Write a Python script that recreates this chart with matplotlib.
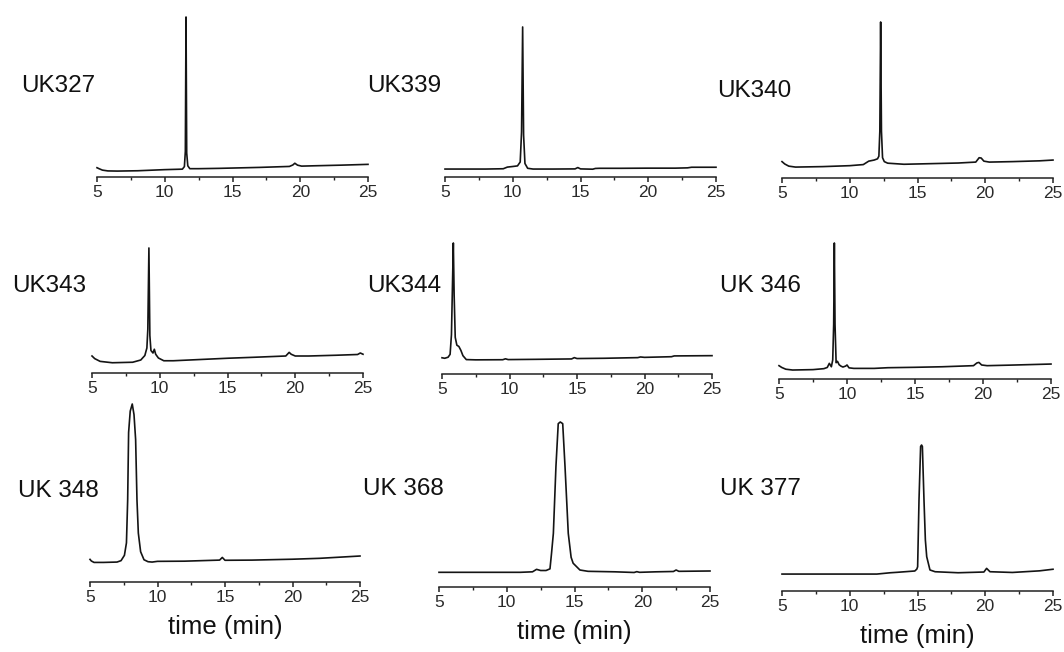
import matplotlib
matplotlib.use("Agg")
import matplotlib.pyplot as plt
from matplotlib.ticker import MultipleLocator

plt.rcParams["font.family"] = ["Liberation Sans", "DejaVu Sans"]

# retention time (min) and detector signal (% of panel full scale)
uk327_t = [5.0, 5.15, 5.4, 5.8, 6.5, 8.0, 10.0, 11.3, 11.45, 11.52, 11.57, 11.62, 11.7, 11.85,
           12.5, 14.0, 15.0, 17.0, 19.2, 19.45, 19.6, 19.8, 20.1, 21.0, 23.0, 25.0]
uk327_y = [5.8, 5.2, 4.3, 3.8, 3.7, 3.9, 4.6, 4.9, 6.5, 16, 100, 15, 7, 5.2,
           5.2, 5.4, 5.6, 6.0, 6.6, 7.5, 8.6, 7.4, 6.8, 7.0, 7.4, 7.9]

uk339_t = [5.0, 6.0, 8.0, 9.3, 9.6, 10.0, 10.35, 10.55, 10.65, 10.73, 10.8, 10.9, 11.1, 11.5,
           13.0, 14.6, 14.8, 15.0, 15.9, 16.1, 16.4, 18.0, 20.0, 22.0, 22.9, 23.2, 25.0]
uk339_y = [5.3, 5.3, 5.3, 5.5, 6.6, 7.0, 7.4, 10, 30, 100, 28, 9, 5.8, 5.3,
           5.3, 5.4, 6.3, 5.4, 5.2, 5.7, 5.8, 5.8, 5.9, 5.9, 6.1, 6.5, 6.5]

uk340_t = [5.0, 5.2, 5.5, 6.0, 8.0, 10.0, 11.0, 11.4, 11.8, 12.05, 12.15, 12.22, 12.28, 12.34,
           12.42, 12.55, 12.8, 14.0, 16.0, 18.0, 19.3, 19.55, 19.7, 19.9, 20.3, 22.0, 24.0, 25.0]
uk340_y = [10.5, 9.0, 7.6, 7.0, 7.3, 7.9, 8.6, 10.8, 11.5, 12.3, 14, 30, 100, 30,
           13, 10.5, 9.5, 8.8, 9.2, 9.6, 10.2, 13, 12.8, 10.8, 10.2, 10.5, 11.0, 11.5]

uk343_t = [5.0, 5.2, 5.6, 6.5, 8.0, 8.6, 8.9, 9.05, 9.12, 9.2, 9.27, 9.35, 9.5, 9.6, 9.7,
           9.9, 10.3, 11.0, 13.0, 15.0, 17.0, 19.3, 19.55, 19.7, 20.0, 21.0, 23.0, 24.6, 24.8, 25.0]
uk343_y = [13.6, 11.5, 9.3, 8.2, 8.6, 10.4, 14, 20, 35, 100, 30, 18, 16, 19, 15,
           12, 9.8, 9.8, 10.8, 11.8, 12.6, 13.6, 16.5, 15.0, 13.6, 13.6, 14.2, 14.8, 16, 15]

uk344_t = [5.0, 5.2, 5.45, 5.6, 5.7, 5.78, 5.84, 5.9, 5.98, 6.1, 6.25, 6.4, 6.55, 6.8, 7.5,
           9.5, 9.7, 9.9, 12.0, 14.6, 14.8, 15.0, 17.0, 19.5, 19.7, 20.0, 22.0, 22.2, 25.0]
uk344_y = [12.4, 12.0, 12.8, 15, 30, 70, 100, 60, 28, 22, 21, 18, 14, 11, 10.8,
           10.9, 11.6, 11.0, 11.2, 11.5, 12.5, 11.8, 12.0, 12.5, 13.0, 12.7, 13.2, 13.8, 14.0]

uk346_t = [5.0, 5.2, 5.5, 6.0, 7.5, 8.3, 8.55, 8.7, 8.85, 8.95, 9.02, 9.07, 9.12, 9.2, 9.3,
           9.42, 9.55, 9.7, 9.9, 10.0, 10.15, 10.5, 12.0, 13.0, 15.0, 17.0, 19.3, 19.55, 19.7,
           19.9, 20.3, 22.0, 25.0]
uk346_y = [9.8, 8.5, 7.2, 6.6, 6.9, 7.6, 8.5, 11.5, 9.0, 14, 40, 100, 40, 12, 13,
           10.5, 9.5, 8.8, 9.5, 10.3, 8.2, 7.8, 7.8, 8.3, 8.6, 9.0, 9.8, 11.8, 12.2,
           10.3, 9.8, 10.2, 11.0]

uk348_t = [5.0, 5.1, 5.3, 6.0, 7.0, 7.3, 7.55, 7.7, 7.79, 7.86, 7.98, 8.13, 8.26, 8.38,
           8.48, 8.58, 8.75, 9.0, 9.3, 9.6, 10.0, 12.0, 14.6, 14.8, 15.0, 17.0, 20.0, 22.0, 25.0]
uk348_y = [12.7, 11.8, 11.0, 11.0, 11.2, 12.0, 15, 22, 46, 84, 96, 100, 94, 80,
           46, 27.5, 17, 12.5, 11.4, 11.2, 11.6, 11.7, 12.3, 13.8, 12.2, 12.3, 12.8, 13.3, 14.6]

uk368_t = [5.0, 8.0, 11.0, 11.9, 12.2, 12.5, 12.9, 13.19, 13.3, 13.44, 13.63, 13.8, 13.95, 14.13,
           14.3, 14.54, 14.75, 14.9, 15.4, 16.0, 18.0, 19.4, 19.6, 19.8, 21.0, 22.3, 22.5, 22.7, 25.0]
uk368_y = [8.9, 8.9, 8.9, 9.2, 10.7, 10.0, 10.0, 11, 20, 32.5, 73, 99, 100, 99,
           73, 32.5, 18, 14.4, 10.3, 9.5, 9.2, 8.8, 9.3, 8.9, 9.2, 9.4, 10.3, 9.5, 9.7]

uk377_t = [5.0, 8.0, 10.0, 12.0, 13.0, 13.5, 14.8, 14.95, 15.01, 15.11, 15.23, 15.3, 15.36,
           15.48, 15.58, 15.68, 15.92, 16.3, 18.0, 19.9, 20.1, 20.35, 22.0, 24.0, 25.0]
uk377_y = [11.6, 11.6, 11.6, 11.6, 12.5, 12.8, 13.7, 15, 16.6, 62, 99, 100, 99,
           62, 35, 23.5, 14.4, 13.2, 12.5, 13.0, 15.5, 13.2, 12.7, 13.8, 14.9]

names = ["UK327", "UK339", "UK340", "UK343", "UK344", "UK 346", "UK 348", "UK 368", "UK 377"]
times = [uk327_t, uk339_t, uk340_t, uk343_t, uk344_t, uk346_t, uk348_t, uk368_t, uk377_t]
signals = [uk327_y, uk339_y, uk340_y, uk343_y, uk344_y, uk346_y, uk348_y, uk368_y, uk377_y]
xticks = [5, 10, 15, 20, 25]

W, H = 1064, 652
# panel boxes in pixels: left, right, axis line y, top y
boxes = [(97, 368, 177, 17), (445, 716, 177, 27), (782, 1053, 178, 22),
         (92, 363, 373, 248), (442, 712, 374, 243), (779, 1051, 379, 243),
         (90, 360, 582, 404), (439, 710, 587, 422), (782, 1053, 591, 445)]
# sample name anchors: left x, baseline y
name_pos = [(21, 92), (367, 92), (717, 97), (12, 292), (367, 292), (720, 292),
            (18, 497), (363, 495), (720, 495)]

fig = plt.figure(figsize=(W / 100, H / 100), dpi=100)

for i, (name, t, y) in enumerate(zip(names, times, signals)):
    l, r, b, top = boxes[i]
    ax = fig.add_axes([l / W, 1 - b / H, (r - l) / W, (b - top) / H])
    ax.plot(t, y, color="#141414", lw=1.2, clip_on=False)
    ax.set_xlim(5, 25)
    ax.set_ylim(0, 100)
    for s in ("left", "right", "top"):
        ax.spines[s].set_visible(False)
    ax.spines["bottom"].set_linewidth(1.1)
    ax.spines["bottom"].set_color("#222222")
    ax.set_yticks([])
    ax.set_xticks(xticks)
    ax.xaxis.set_minor_locator(MultipleLocator(2.5))
    ax.tick_params(axis="x", which="major", direction="out", length=3.5, width=1.1,
                   color="#222222", labelsize=12.5, pad=2.5, labelcolor="#2a2a2a")
    ax.tick_params(axis="x", which="minor", direction="out", length=2, width=1.0,
                   color="#222222")
    ax.patch.set_visible(False)
    if i >= 6:
        ax.set_xlabel("time (min)", fontsize=18.5, labelpad=7, color="#111111")

    nx, ny = name_pos[i]
    fig.text(nx / W, 1 - ny / H, name, fontsize=17.5, va="baseline", ha="left",
             color="#111111")

fig.savefig("out.png", dpi=100)
